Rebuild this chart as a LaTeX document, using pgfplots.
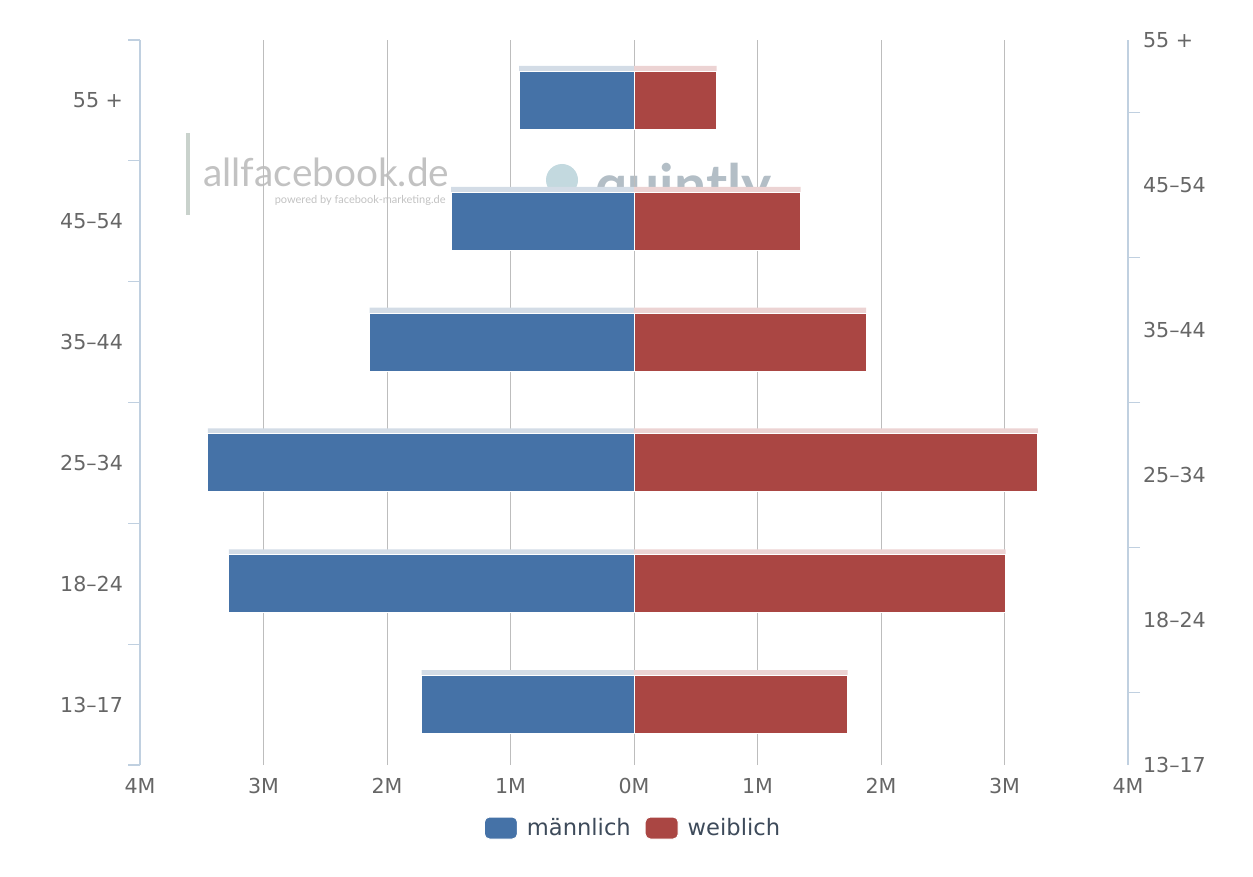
\documentclass[border=0pt]{standalone}
\usepackage{fontspec}
\setmainfont{DejaVu Sans}
\newfontfamily\wmfont{Lato}
\usepackage{pgfplots}
\pgfplotsset{compat=1.18}
\definecolor{hcblue}{HTML}{4572A7}
\definecolor{hcred}{HTML}{AA4643}
\definecolor{shblue}{HTML}{D3DCE6}
\definecolor{shred}{HTML}{ECD3D3}
\definecolor{tickgrey}{HTML}{666666}
\definecolor{axisline}{HTML}{C0D0E0}
\definecolor{gridgrey}{HTML}{BDBDBD}
\definecolor{legendcol}{HTML}{3D4A5A}
\definecolor{wmgrey}{HTML}{C2C2C2}
\definecolor{wmbar}{HTML}{C9D2CC}
\definecolor{quintlygrey}{HTML}{B3BEC6}
\definecolor{quintlyicon}{HTML}{C3D9DF}
\begin{document}
\begin{tikzpicture}
\begin{scope}[x=0.5pt,y=-0.5pt]
\path (0,0) rectangle (1253,877);
\fill[wmbar] (186,133) rectangle (190,215);
\node[anchor=base west, inner sep=0, text=wmgrey, font=\wmfont\fontsize{19.4}{20}\selectfont] at (203,187) {allfacebook.de};
\node[anchor=base east, inner sep=0, text=wmgrey, font=\wmfont\fontsize{5.5}{6}\selectfont] at (446,204) {powered by facebook-marketing.de};
\fill[quintlyicon] (562,180) circle (16);
\node[anchor=base west, inner sep=0, text=quintlygrey, font=\wmfont\bfseries\fontsize{28.5}{29}\selectfont] at (595,206) {quintly};
\end{scope}
\begin{axis}[
  at={(70pt,-382.5pt)}, anchor=south west,
  scale only axis, width=494pt, height=362.5pt,
  xmin=-4, xmax=4, ymin=-0.5, ymax=5.5,
  xbar, bar width=0.48,
  axis x line=bottom, axis y line=left,
  axis line style={-},
  x axis line style={draw=none},
  y axis line style={draw=axisline, line width=0.6pt},
  xtick={-4,-3,-2,-1,0,1,2,3,4},
  xticklabels={4M,3M,2M,1M,0M,1M,2M,3M,4M},
  xmajorgrids, grid style={draw=gridgrey, line width=0.5pt},
  ytick={0,1,2,3,4,5},
  yticklabels={13--17,18--24,25--34,35--44,45--54,55 +},
  minor ytick={-0.5,0.5,1.5,2.5,3.5,4.5,5.5},
  major tick length=0pt, minor tick length=6pt, tick align=outside,
  tick style={draw=axisline, line width=0.6pt},
  ticklabel style={font=\fontsize{10.3}{12}\selectfont, text=tickgrey},
  xticklabel style={yshift=-3pt},
  yticklabel style={xshift=-5pt},
  legend columns=2,
  legend style={at={(0.5,0)}, anchor=center, yshift=-31.5pt, draw=none, fill=none,
    font=\fontsize{11.3}{13}\selectfont, text=legendcol,
    /tikz/every odd column/.append style={column sep=2.5pt},
    /tikz/every even column/.append style={column sep=5pt}},
  legend image code/.code={\fill[#1, rounded corners=2.5pt] (0pt,-5.5pt) rectangle (16.5pt,5.5pt);},
]
\addplot[fill=shblue, draw=none, bar shift=0.045, forget plot] coordinates {(-1.72,0) (-3.28,1) (-3.45,2) (-2.14,3) (-1.48,4) (-0.93,5)};
\addplot[fill=shred, draw=none, bar shift=0.045, forget plot] coordinates {(1.73,0) (3.01,1) (3.27,2) (1.88,3) (1.35,4) (0.67,5)};
\addplot[fill=hcblue, draw=white, line width=0.5pt, bar shift=0] coordinates {(-1.72,0) (-3.28,1) (-3.45,2) (-2.14,3) (-1.48,4) (-0.93,5)};
\addplot[fill=hcred, draw=white, line width=0.5pt, bar shift=0] coordinates {(1.73,0) (3.01,1) (3.27,2) (1.88,3) (1.35,4) (0.67,5)};
\legend{männlich, weiblich}
\end{axis}
\begin{axis}[
  at={(70pt,-382.5pt)}, anchor=south west,
  scale only axis, width=494pt, height=362.5pt,
  xmin=-4, xmax=4, ymin=0, ymax=5,
  axis x line=none, axis y line=right,
  axis line style={-, draw=axisline, line width=0.6pt},
  ytick={0,1,2,3,4,5},
  yticklabels={13--17,18--24,25--34,35--44,45--54,55 +},
  minor ytick={0.5,1.5,2.5,3.5,4.5},
  major tick length=0pt, minor tick length=6pt, tick align=outside,
  tick style={draw=axisline, line width=0.6pt},
  ticklabel style={font=\fontsize{10.3}{12}\selectfont, text=tickgrey},
  yticklabel style={anchor=west, xshift=4pt},
]
\addplot[draw=none, forget plot] coordinates {(0,0) (0,5)};
\end{axis}
\end{tikzpicture}
\end{document}
